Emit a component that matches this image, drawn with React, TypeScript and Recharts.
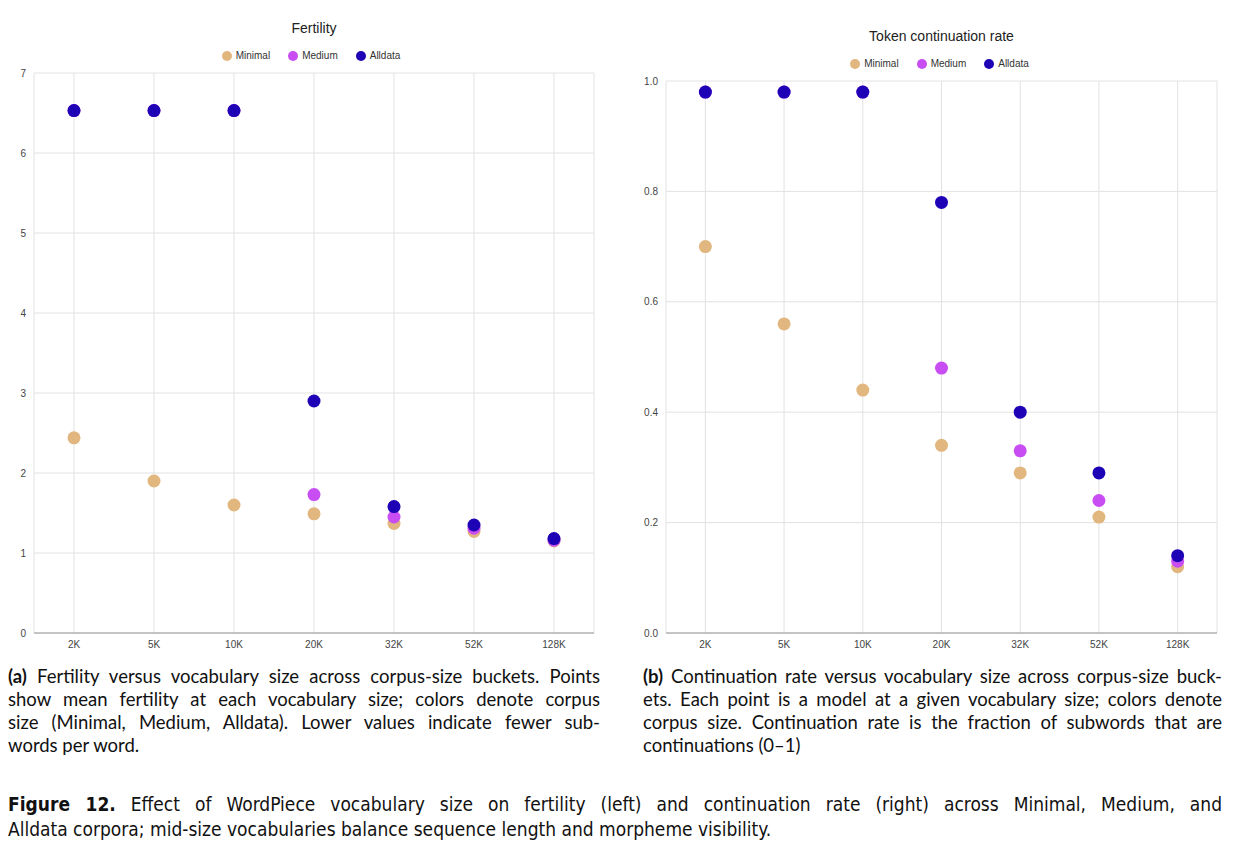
import { ComposedChart, Scatter, XAxis, YAxis, CartesianGrid, Legend } from "recharts"

const sizes = ["2K", "5K", "10K", "20K", "32K", "52K", "128K"]
const seriesOrder = ["Minimal", "Medium", "Alldata"]

// fertility (left panel)
const fertMinimal = [2.44, 1.9, 1.6, 1.49, 1.37, 1.27, 1.15]
const fertMedium = [6.53, 6.53, 6.53, 1.73, 1.45, 1.31, 1.16]
const fertAlldata = [6.53, 6.53, 6.53, 2.9, 1.58, 1.35, 1.18]
const fertTicks = [0, 1, 2, 3, 4, 5, 6, 7]

// token continuation rate (right panel)
const contMinimal = [0.7, 0.56, 0.44, 0.34, 0.29, 0.21, 0.12]
const contMedium = [0.98, 0.98, 0.98, 0.48, 0.33, 0.24, 0.13]
const contAlldata = [0.98, 0.98, 0.98, 0.78, 0.4, 0.29, 0.14]
const contTicks = [0, 0.2, 0.4, 0.6, 0.8, 1.0]

const C_MIN = "#e2b77f"
const C_MED = "#c84df2"
const C_ALL = "#1e02b5"

const FONT = "'Liberation Sans', Arial, sans-serif"
const CAP_FONT = "Lato, 'Open Sans', sans-serif"

function rows(a: number[], b: number[], c: number[]) {
  return sizes.map((s, i) => ({ size: s, Minimal: a[i], Medium: b[i], Alldata: c[i] }))
}

const dot = (color: string) => (p: any) =>
  p.cx == null ? <g /> : <circle cx={p.cx} cy={p.cy} r={6.5} fill={color} />

function Panel(props: {
  title: string
  data: any[]
  ticks: number[]
  fmt: (v: number) => string
  left: number
  width: number
  top: number
  yWidth: number
  mLeft: number
  mRight: number
  titleY: number
  legendY: number
  legendShift: number
}) {
  const { title, data, ticks, fmt, left, width, top, yWidth, mLeft, mRight, titleY, legendY, legendShift } = props
  const plotCenter = mLeft + yWidth + (width - mLeft - yWidth - mRight) / 2
  return (
    <div style={{ position: "absolute", left, top: 0, width, height: 660 }}>
      <div
        style={{
          position: "absolute",
          top: titleY,
          left: plotCenter - 150,
          width: 300,
          textAlign: "center",
          fontFamily: FONT,
          fontSize: 14,
          color: "#222",
        }}
      >
        {title}
      </div>
      <ComposedChart
        width={width}
        height={660}
        data={data}
        margin={{ top, right: mRight, bottom: 7, left: mLeft }}
        style={{ fontFamily: FONT }}
      >
        <CartesianGrid stroke="#e2e2e2" />
        <XAxis
          dataKey="size"
          type="category"
          scale="band"
          tickLine={false}
          axisLine={{ stroke: "#b5b5b5", strokeWidth: 1.5 }}
          tick={{ fontSize: 10, fill: "#444" }}
          tickMargin={2}
          height={20}
        />
        <YAxis
          type="number"
          domain={[ticks[0], ticks[ticks.length - 1]]}
          ticks={ticks}
          tickFormatter={fmt}
          tickLine={false}
          axisLine={false}
          tick={{ fontSize: 10, fill: "#444" }}
          width={yWidth}
        />
        <Legend
          verticalAlign="top"
          align="center"
          iconType="circle"
          iconSize={10}
          itemSorter={(item: any) => seriesOrder.indexOf(item.value)}
          wrapperStyle={{
            top: legendY,
            left: plotCenter - 150 + legendShift,
            width: 300,
            fontSize: 10,
            color: "#333",
            lineHeight: "12px",
          }}
          formatter={(v: string) => <span style={{ color: "#333", marginRight: 8 }}>{v}</span>}
        />
        <Scatter dataKey="Minimal" fill={C_MIN} shape={dot(C_MIN)} isAnimationActive={false} />
        <Scatter dataKey="Medium" fill={C_MED} shape={dot(C_MED)} isAnimationActive={false} />
        <Scatter dataKey="Alldata" fill={C_ALL} shape={dot(C_ALL)} isAnimationActive={false} />
      </ComposedChart>
    </div>
  )
}

const capLine = (t: any, last: boolean, w: number) => (
  <div
    style={{
      width: w,
      whiteSpace: "nowrap",
      textAlign: "justify",
      textAlignLast: last ? "left" : "justify",
    }}
  >
    {t}
  </div>
)

const capStyle = {
  position: "absolute" as const,
  top: 665,
  fontFamily: CAP_FONT,
  fontSize: 18.5,
  lineHeight: "23px",
  color: "#111",
}

export default function App() {
  return (
    <div
      style={{
        position: "relative",
        width: 1238,
        height: 860,
        margin: "-8px 0 0 -8px",
        background: "#fff",
        overflow: "hidden",
      }}
    >
      <Panel
        title="Fertility"
        data={rows(fertMinimal, fertMedium, fertAlldata)}
        ticks={fertTicks}
        fmt={(v) => String(v)}
        left={0}
        width={620}
        top={61}
        yWidth={30}
        mLeft={4}
        mRight={26}
        titleY={20}
        legendY={50}
        legendShift={6}
      />
      <Panel
        title="Token continuation rate"
        data={rows(contMinimal, contMedium, contAlldata)}
        ticks={contTicks}
        fmt={(v) => v.toFixed(1)}
        left={620}
        width={618}
        top={69}
        yWidth={40}
        mLeft={6}
        mRight={21}
        titleY={28}
        legendY={58}
        legendShift={7}
      />

      <div style={{ ...capStyle, left: 8 }}>
        {capLine(<><b>(a)</b> Fertility versus vocabulary size across corpus-size buckets. Points</>, false, 592)}
        {capLine("show mean fertility at each vocabulary size; colors denote corpus", false, 592)}
        {capLine("size (Minimal, Medium, Alldata). Lower values indicate fewer sub-", false, 592)}
        {capLine("words per word.", true, 592)}
      </div>
      <div style={{ ...capStyle, left: 643 }}>
        {capLine(<><b>(b)</b> Continuation rate versus vocabulary size across corpus-size buck-</>, false, 579)}
        {capLine("ets. Each point is a model at a given vocabulary size; colors denote", false, 579)}
        {capLine("corpus size. Continuation rate is the fraction of subwords that are", false, 579)}
        {capLine("continuations (0–1)", true, 579)}
      </div>

      <div
        style={{
          position: "absolute",
          left: 8,
          top: 792,
          fontFamily: "'DejaVu Sans', sans-serif",
          fontStretch: "condensed",
          fontSize: 19,
          lineHeight: "25px",
          color: "#111",
        }}
      >
        <div style={{ width: 1214, whiteSpace: "nowrap", textAlignLast: "justify" }}>
          <b>Figure 12.</b> Effect of WordPiece vocabulary size on fertility (left) and continuation rate (right)
          across Minimal, Medium, and
        </div>
        <div style={{ whiteSpace: "nowrap" }}>
          Alldata corpora; mid-size vocabularies balance sequence length and morpheme visibility.
        </div>
      </div>
    </div>
  )
}
